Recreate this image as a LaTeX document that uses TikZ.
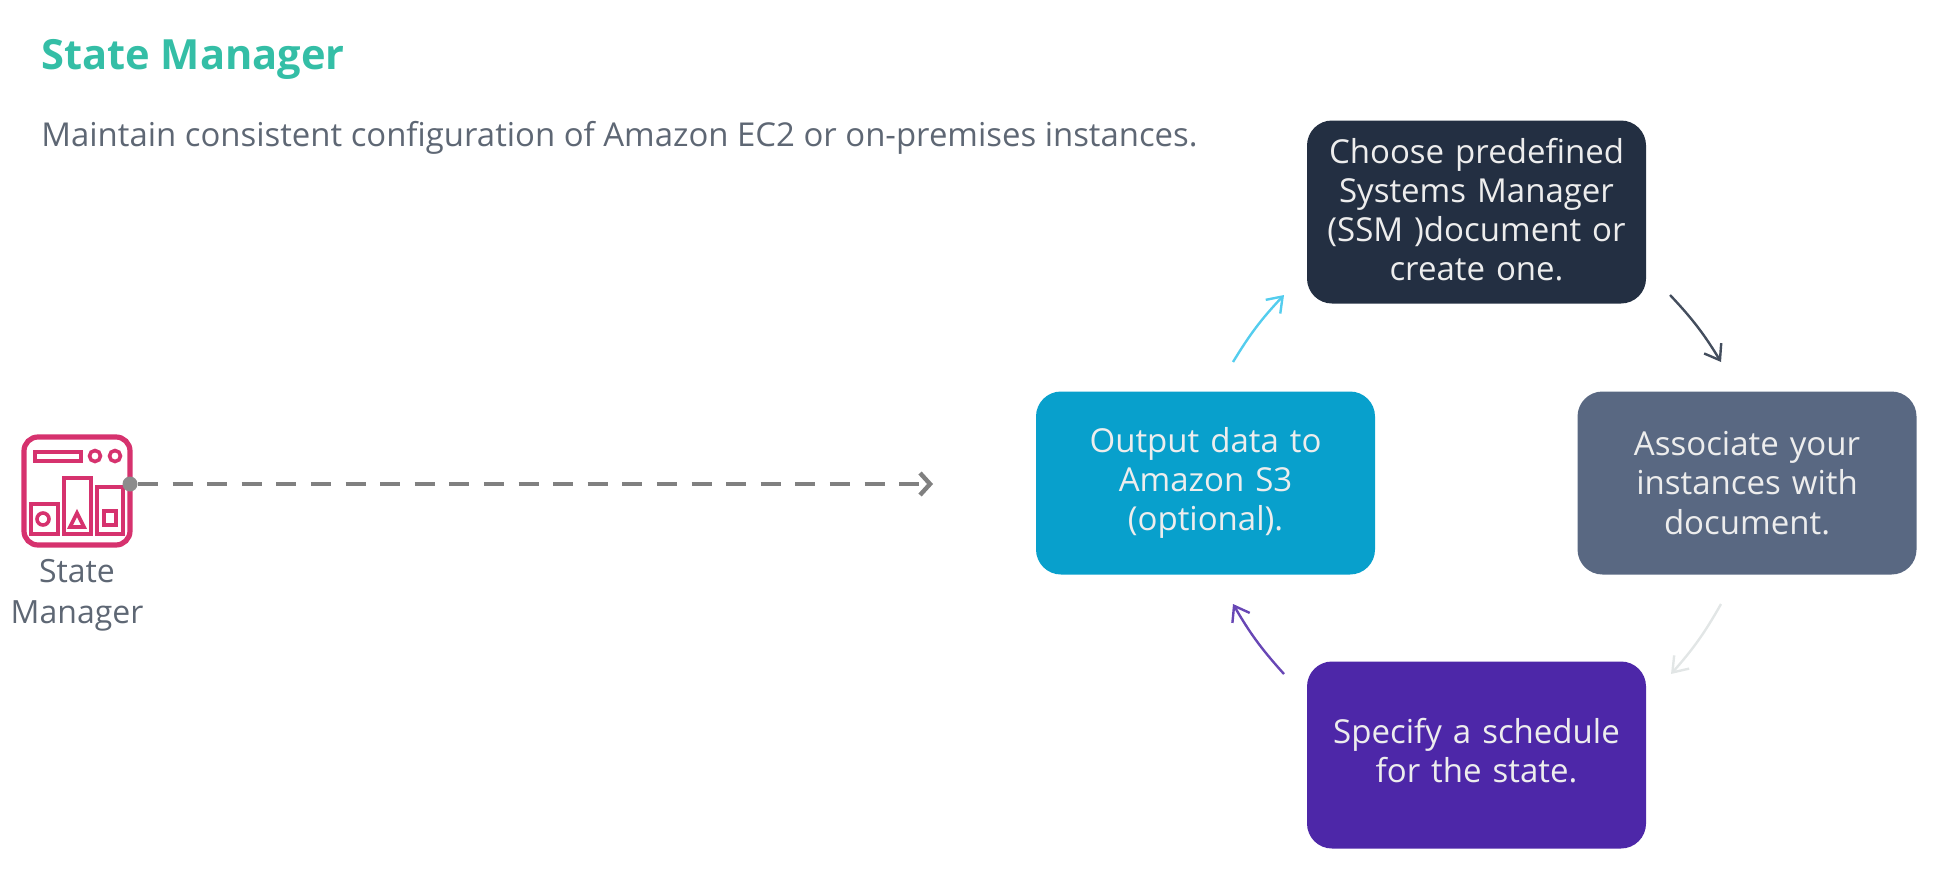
\documentclass[tikz,border=0pt]{standalone}
\usepackage{fontspec}
\setmainfont{Open Sans}
\usepackage{xcolor}
\definecolor{mytitle}{RGB}{52, 190, 166}
\definecolor{mytext}{RGB}{94, 103, 116}
\definecolor{mynavy}{RGB}{35, 47, 66}
\definecolor{myslate}{RGB}{89, 104, 130}
\definecolor{myblue}{RGB}{8, 160, 204}
\definecolor{mypurple}{RGB}{77, 39, 168}
\definecolor{mypink}{RGB}{214, 50, 110}
\definecolor{mycyan}{RGB}{84, 205, 238}
\definecolor{mypale}{RGB}{226, 230, 230}
\usetikzlibrary{
    arrows.meta,
    positioning
}
\tikzstyle{stepbox} = [
    rounded corners=12.5pt,
    minimum width=169.5pt,
    minimum height=91.5pt,
    text width=160pt,
    align=center,
    inner sep=0pt,
    text=white!93!black,
    font=\fontsize{16.5}{19.6}\selectfont
]
\tikzstyle{arrow} = [
    line width=1.2pt,
    -{Straight Barb[length=7pt,width=10pt]}
]
\tikzstyle{icon} = [
    mypink,
    line width=1.8pt
]

\begin{document}
\begin{tikzpicture}[x=0.5pt, y=-0.5pt]

\useasboundingbox (0,0) rectangle (1957,868);

% Titel und Untertitel
\node[anchor=base west, inner sep=0pt, text=mytitle, font=\fontsize{20.8}{26}\selectfont\bfseries] (title) at (41,69) {State Manager};
\node[anchor=base west, inner sep=0pt, text=mytext, font=\fontsize{16.45}{20}\selectfont] (subtitle) at (41,146) {Maintain consistent configuration of Amazon EC2 or on-premises instances.};

% Schritte
\node[stepbox, fill=mynavy] (choose) at (1476.5,212) {Choose predefined\\Systems Manager\\(SSM )document or\\create one.\par\vspace{2.5pt}};
\node[stepbox, fill=myslate] (associate) at (1747,483) {Associate your\\instances with\\document.};
\node[stepbox, fill=mypurple, minimum height=93.5pt] (schedule) at (1476.5,755) {Specify a schedule\\for the state.\par\vspace{4.4pt}};
\node[stepbox, fill=myblue] (output) at (1205.5,483) {Output data to\\Amazon S3\\(optional).};

% freie Pfeilenden
\coordinate (a1) at (1670,295);
\coordinate (a2) at (1721,362);
\coordinate (b1) at (1721,604);
\coordinate (b2) at (1671,674);
\coordinate (c1) at (1284,674);
\coordinate (c2) at (1233,604);
\coordinate (d1) at (1233,362);
\coordinate (d2) at (1284,295);
\coordinate (e2) at (933,484);

% Pfeile im Kreis
\draw[arrow, mynavy!85] (a1) to[bend left=6] (a2);
\draw[arrow, mypale] (b1) to[bend left=6] (b2);
\draw[arrow, mypurple!85] (c1) to[bend left=6] (c2);
\draw[arrow, mycyan] (d1) to[bend left=6] (d2);

% Symbol
\draw[icon, line width=2.6pt, rounded corners=7pt] (24,437) rectangle (130,545);
\draw[icon] (35,452) rectangle (81,461);
\draw[icon] (95,456) circle (5.5);
\draw[icon] (115,456) circle (5.5);
\draw[icon] (31,504) rectangle (58,534);
\draw[icon] (64,478) rectangle (91,534);
\draw[icon] (97,487) rectangle (123,534);
\draw[icon] (43,519) circle (6);
\draw[icon] (70,527) -- (84,527) -- (77,513) -- cycle;
\draw[icon] (104,511) rectangle (116,525);

\node[anchor=north, inner sep=0pt, align=center, text=mytext, font=\fontsize{16}{20.5}\selectfont] (label) at (77,559) {State\\Manager};

% gestrichelter Pfeil
\node[circle, fill=gray!90, inner sep=0pt, minimum size=7.5pt] (dot) at (130,484) {};
\draw[gray, line width=2.2pt, dash pattern=on 10pt off 7.3pt, -{Straight Barb[length=5pt,width=11pt]}] (dot) -- (e2);

\end{tikzpicture}
\end{document}
